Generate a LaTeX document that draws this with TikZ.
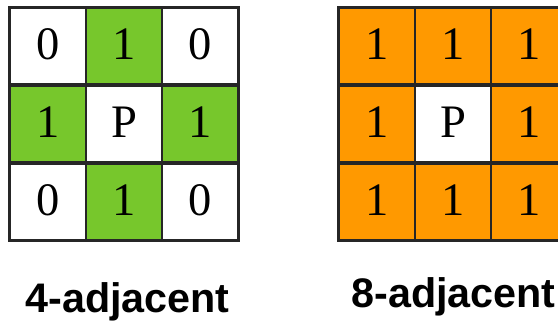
\documentclass[tikz,border=0pt]{standalone}
\usepackage{fontspec}
\setmainfont{Liberation Serif}
\setsansfont{Liberation Sans}
\usepackage{tikz}
\usetikzlibrary{positioning}

\definecolor{nbgreen}{RGB}{119,199,44}
\definecolor{nborange}{RGB}{255,153,0}

\begin{document}
\begin{tikzpicture}[
  cell/.style={draw=black!85, line width=0.8pt, minimum size=1.52cm, inner sep=0pt,
    text depth=0.08cm, font=\fontsize{26.5}{26.5}\selectfont},
  four/.style={cell, fill=nbgreen},
  eight/.style={cell, fill=nborange},
  caption/.style={anchor=base, font=\sffamily\bfseries\fontsize{23.5}{23.5}\selectfont}]
  \clip (0,0) rectangle (11.16,6.44);
  % 4-neighbourhood
  \node[cell] (a11) at (0.96,5.52) {0};
  \node[four] (a12) at (2.48,5.52) {1};
  \node[cell] (a13) at (4.00,5.52) {0};
  \node[four] (a21) at (0.96,3.96) {1};
  \node[cell] (a22) at (2.48,3.96) {P};
  \node[four] (a23) at (4.00,3.96) {1};
  \node[cell] (a31) at (0.96,2.40) {0};
  \node[four] (a32) at (2.48,2.40) {1};
  \node[cell] (a33) at (4.00,2.40) {0};
  \draw[black!85, line width=1.1pt] (a11.north west) rectangle (a33.south east);
  % 8-neighbourhood
  \node[eight] (b11) at (7.54,5.52) {1};
  \node[eight] (b12) at (9.06,5.52) {1};
  \node[eight] (b13) at (10.58,5.52) {1};
  \node[eight] (b21) at (7.54,3.96) {1};
  \node[cell]  (b22) at (9.06,3.96) {P};
  \node[eight] (b23) at (10.58,3.96) {1};
  \node[eight] (b31) at (7.54,2.40) {1};
  \node[eight] (b32) at (9.06,2.40) {1};
  \node[eight] (b33) at (10.58,2.40) {1};
  \draw[black!85, line width=1.1pt] (b11.north west) rectangle (b33.south east);
  \node[caption] (fourlbl)  at (2.55,0.18) {4-adjacent};
  \node[caption] (eightlbl) at (9.07,0.28) {8-adjacent};
\end{tikzpicture}
\end{document}
